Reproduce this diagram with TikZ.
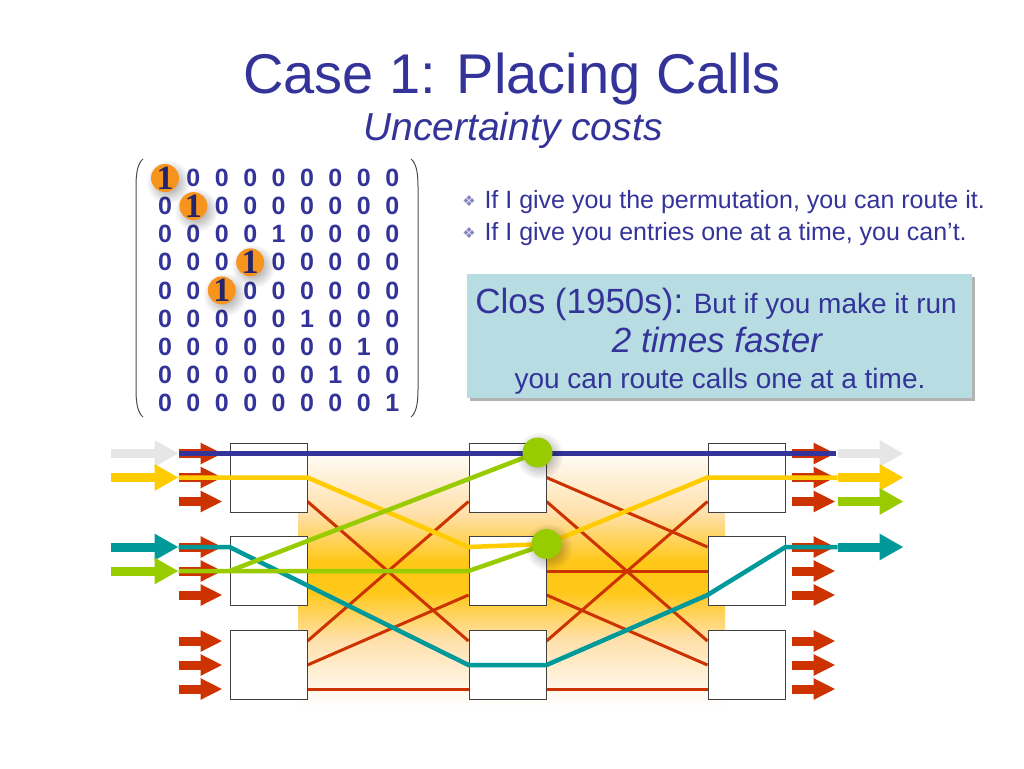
\documentclass[tikz,border=0pt]{standalone}
\usepackage{fontspec}
\setmainfont{Liberation Sans}
\newfontfamily\oneserif{Liberation Serif}
\newfontfamily\bulletfont{DejaVu Sans}
\usetikzlibrary{positioning, arrows.meta, calc, shadows, fadings}
\pgfdeclarelayer{bg}
\pgfsetlayers{bg,main}
\definecolor{slideblue}{RGB}{51,51,153}
\definecolor{linkred}{RGB}{204,51,0}
\definecolor{callyellow}{RGB}{255,204,0}
\definecolor{callgreen}{RGB}{153,204,0}
\definecolor{callteal}{RGB}{0,153,153}
\definecolor{callgray}{RGB}{230,230,230}
\definecolor{closbg}{RGB}{183,221,226}
\definecolor{oneorange}{RGB}{247,148,30}
\definecolor{glowpeach}{RGB}{255,224,170}
\definecolor{glowgold}{RGB}{255,200,25}
\pgfdeclareverticalshading{glowband}{100bp}{color(0bp)=(white); color(25bp)=(white);
  color(38bp)=(glowpeach); color(47bp)=(glowgold); color(53bp)=(glowgold);
  color(62bp)=(glowpeach); color(75bp)=(white); color(100bp)=(white)}
\tikzfading[name=softspot, inner color=transparent!20, outer color=transparent!100]

\begin{document}
\begin{tikzpicture}[x=1pt, y=-1pt,
    switchbox/.style={draw=black!75, line width=1pt, fill=white, minimum width=77pt, minimum height=69pt, inner sep=0pt},
    link/.style={linkred, line width=3pt},
    call/.style={line width=4.5pt, line join=round},
    portarrow/.style={linkred, line width=9pt, -{Triangle[width=20pt,length=22pt]}},
    bigarrow/.style={line width=9pt, -{Triangle[width=25pt,length=24pt]}},
    cell/.style={font=\fontsize{25}{25}\selectfont\bfseries, text=slideblue, inner sep=0pt},
    softglow/.style={fill=black, opacity=0.55, path fading=softspot}]
  \useasboundingbox (0,0) rectangle (1024,768);

  \node[anchor=base, text=slideblue, font=\fontsize{56}{60}\selectfont] (title) at (512,93) {Case 1: Placing Calls};
  \node[anchor=base, text=slideblue, font=\fontsize{39}{42}\selectfont\itshape] (subtitle) at (513,140) {Uncertainty costs};

  % permutation matrix
  \draw[black!70, line width=1pt] (143,159) .. controls (138,163) and (136,172) .. (136,186) -- (136,390) .. controls (136,404) and (138,413) .. (143,417);
  \draw[black!70, line width=1pt] (411,159) .. controls (416,163) and (418,172) .. (418,186) -- (418,390) .. controls (418,404) and (416,413) .. (411,417);
  \foreach \r/\p/\k in {0/0/1, 1/1/1, 2/4/0, 3/3/1, 4/2/1, 5/5/0, 6/7/0, 7/6/0, 8/8/0} {
    \foreach \c in {0,...,8} {
      \ifnum\c=\p
        \ifnum\k=0 \node[cell] (m-\r-\c) at (165+28.4*\c, 178+28.1*\r) {1}; \fi
      \else
        \node[cell] (m-\r-\c) at (165+28.4*\c, 178+28.1*\r) {0};
      \fi
    }
  }
  \foreach \r/\c in {0/0, 1/1, 3/3, 4/2} {
    \fill[softglow] (168+28.4*\c, 182+28.1*\r) circle (22);
    \fill[oneorange] (165+28.4*\c, 178+28.1*\r) circle (14);
    \node[inner sep=0pt, text=slideblue!70!black, font=\oneserif\bfseries\fontsize{34}{34}\selectfont] (one-\r) at (165+28.4*\c, 178+28.1*\r) {1};
  }

  % text on the right
  \node[anchor=base west, text=slideblue, font=\fontsize{25}{30}\selectfont] (b1) at (481,208) {If I give you the permutation, you can route it.};
  \node[anchor=base west, text=slideblue, font=\fontsize{25}{30}\selectfont] (b2) at (481,240) {If I give you entries one at a time, you can’t.};
  \node[left=5pt of b1.west, inner sep=0pt, text=slideblue!60, font=\bulletfont\fontsize{15}{15}\selectfont] (bull1) {❖};
  \node[left=5pt of b2.west, inner sep=0pt, text=slideblue!60, font=\bulletfont\fontsize{15}{15}\selectfont] (bull2) {❖};

  \node[fill=closbg, minimum width=505pt, minimum height=124pt, drop shadow={shadow xshift=3pt, shadow yshift=-3pt, fill=black!50, opacity=0.6}] (clos) at (719.5,336) {};
  \node[anchor=base, text=slideblue] (clos1) at (716,313) {\fontsize{35}{40}\selectfont Clos (1950s):\fontsize{28}{32}\selectfont{} But if you make it run};
  \node[anchor=base, text=slideblue, font=\fontsize{35}{40}\selectfont\itshape] (clos2) at (717,352) {2 times faster};
  \node[anchor=base, text=slideblue, font=\fontsize{28}{32}\selectfont] (clos3) at (720,388) {you can route calls one at a time.};

  % three stage network
  \foreach \s/\y in {1/477.5, 2/571, 3/665} {
    \node[switchbox] (l\s) at (268.5,\y) {};
    \node[switchbox] (m\s) at (507.5,\y) {};
    \node[switchbox] (r\s) at (746.5,\y) {};
  }
  \foreach \s in {1,2,3} {
    \foreach \p/\dy in {1/-24, 2/0, 3/24} {
      \coordinate (l\s i\p) at ($(l\s.west)+(0,\dy)$);
      \coordinate (l\s o\p) at ($(l\s.east)+(0,\dy)$);
      \coordinate (m\s i\p) at ($(m\s.west)+(0,\dy)$);
      \coordinate (m\s o\p) at ($(m\s.east)+(0,\dy)$);
      \coordinate (r\s i\p) at ($(r\s.west)+(0,\dy)$);
      \coordinate (r\s o\p) at ($(r\s.east)+(0,\dy)$);
    }
  }
  \begin{pgfonlayer}{bg}
    \shade[shading=glowband] (298,446) rectangle (725,707);
    \foreach \a/\b in {l1o3/m3i1, l3o1/m1i3, l3o2/m2i3, l3o3/m3i3, m1o2/r2i1, m1o3/r3i1, m2o2/r2i2, m2o3/r3i2, m3o1/r1i3, m3o3/r3i3}
      \draw[link] (\a) -- (\b);
  \end{pgfonlayer}
  \foreach \s in {1,2,3} {
    \foreach \p in {1,2,3} {
      \draw[portarrow] ($(l\s i\p)+(-51,0)$) -- ($(l\s i\p)+(-7,0)$);
      \draw[portarrow] ($(r\s o\p)+(6,0)$) -- ($(r\s o\p)+(50,0)$);
    }
  }

  \coordinate (dot1) at ($(m1o1)+(-9,-1)$);
  \coordinate (dot2) at ($(m2o1)+(0,-3)$);

  % calls
  \foreach \a/\col in {l1i1/callgray, l1i2/callyellow, l2i1/callteal, l2i2/callgreen}
    \draw[bigarrow, \col] ($(\a)+(-119,0)$) -- ($(\a)+(-51,0)$);
  \foreach \a/\col in {r1o1/callgray, r1o2/callyellow, r1o3/callgreen, r2o1/callteal}
    \draw[bigarrow, \col] ($(\a)+(52,0)$) -- ($(\a)+(118,0)$);
  \draw[call, slideblue] ($(l1i1)+(-51,0)$) -- ($(r1o1)+(50,0)$);
  \draw[call, callyellow] ($(l1i2)+(-51,0)$) -- (l1o2) -- (m2i1) -- (dot2) -- (r1i2) -- ($(r1o2)+(52,0)$);
  \draw[call, callteal] ($(l2i1)+(-51,0)$) -- (l2i1) -- (m3i2) -- (m3o2) -- (r2i3) -- (r2o1) -- ($(r2o1)+(52,0)$);
  \draw[call, callgreen] ($(l2i2)+(-51,0)$) -- (l2i2) -- (m2i2) -- (dot2);
  \draw[call, callgreen] (l2i2) -- (dot1);
  \foreach \d in {dot1, dot2} {
    \fill[softglow] ($(\d)+(2,3)$) circle (24);
    \fill[callgreen] (\d) circle (15);
  }
\end{tikzpicture}
\end{document}
